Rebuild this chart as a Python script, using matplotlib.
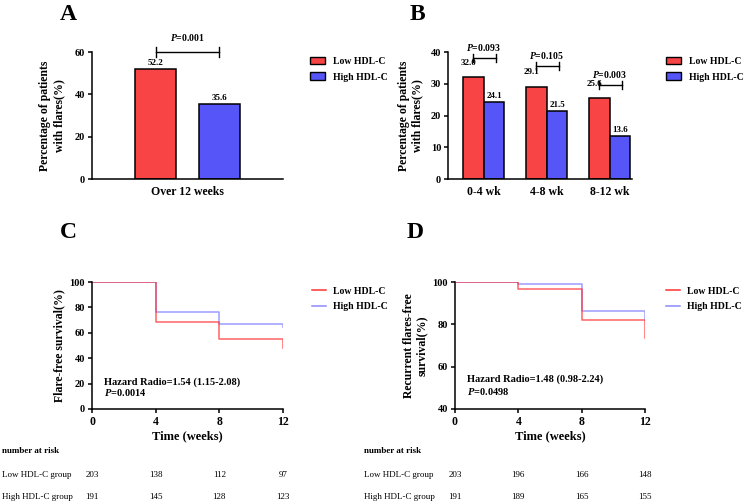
import matplotlib
matplotlib.use('Agg')
import matplotlib.pyplot as plt
from matplotlib.patches import Patch
from matplotlib.lines import Line2D
import matplotlib.transforms as mtransforms

plt.rcParams['font.family'] = 'Liberation Serif'
plt.rcParams['font.weight'] = 'bold'
plt.rcParams['axes.labelweight'] = 'bold'
plt.rcParams['mathtext.fontset'] = 'custom'
plt.rcParams['mathtext.it'] = 'Liberation Serif:bold:italic'
plt.rcParams['mathtext.rm'] = 'Liberation Serif:bold'

# panel A
overall_label = 'Over 12 weeks'
overall_low = 52.2
overall_high = 35.6
overall_p = '0.001'

# panel B
periods = ['0-4 wk', '4-8 wk', '8-12 wk']
period_low = [32.0, 29.1, 25.6]
period_high = [24.1, 21.5, 13.6]
period_p = ['0.093', '0.105', '0.003']

# panels C and D (Kaplan-Meier steps, last point is the drop at week 12)
km_times = [0, 4, 8, 12, 12]
flare_low = [100, 68.2, 55.1, 55.1, 47.8]
flare_high = [100, 76.1, 66.7, 66.7, 64.8]
recur_low = [100, 96.7, 82.0, 82.0, 73.5]
recur_high = [100, 98.9, 86.4, 86.4, 82.0]

risk_weeks = [0, 4, 8, 12]
flare_risk_low = [203, 138, 112, 97]
flare_risk_high = [191, 145, 128, 123]
recur_risk_low = [203, 196, 166, 148]
recur_risk_high = [191, 189, 165, 155]

RED = '#F84444'
BLUE = '#5555F8'
LINE_RED = '#FF3030'
LINE_BLUE = '#8C8CFF'

W, H = 753, 504
fig = plt.figure(figsize=(W / 100, H / 100), dpi=100)


def px_axes(left, top, right, bottom):
    return fig.add_axes([left / W, 1 - bottom / H, (right - left) / W, (bottom - top) / H])


def style_axes(ax):
    for s in ['top', 'right']:
        ax.spines[s].set_visible(False)
    for s in ['left', 'bottom']:
        ax.spines[s].set_linewidth(1.1)
    ax.tick_params(width=1.1, length=3, labelsize=7.5, pad=2)


def fig_y(py):
    return 1 - py / H


def bar_legend(ax, x_px):
    ax.legend(handles=[Patch(facecolor=RED, edgecolor='black', lw=1, label='Low HDL-C'),
                       Patch(facecolor=BLUE, edgecolor='black', lw=1, label='High HDL-C')],
              loc='center left', bbox_to_anchor=(x_px / W, fig_y(69)), bbox_transform=fig.transFigure,
              frameon=False, fontsize=7, handlelength=1.5, handleheight=0.8, handletextpad=0.9,
              labelspacing=0.7, borderpad=0, borderaxespad=0)


# ---------- A ----------
axA = px_axes(92, 52, 283, 179)
style_axes(axA)
bw = 0.65
axA.bar([0], [overall_low], width=bw, color=RED, edgecolor='black', linewidth=1.1)
axA.bar([1], [overall_high], width=bw, color=BLUE, edgecolor='black', linewidth=1.1)
axA.set_xlim(-1, 2)
axA.set_ylim(0, 60)
axA.set_yticks([0, 20, 40, 60])
axA.set_xticks([0.5])
axA.set_xticklabels([overall_label], fontsize=8.5)
axA.tick_params(axis='x', length=0, pad=5)
axA.set_ylabel('Percentage of patients\nwith flares(%)', fontsize=8.5, labelpad=7)
axA.text(0, overall_low + 0.8, f'{overall_low:.1f}', ha='center', va='bottom', fontsize=6.5)
axA.text(1, overall_high + 0.8, f'{overall_high:.1f}', ha='center', va='bottom', fontsize=6.5)
axA.plot([0, 1], [60, 60], color='black', lw=1, clip_on=False)
for xx in [0, 1]:
    axA.plot([xx, xx], [57.5, 62.5], color='black', lw=1, clip_on=False)
axA.text(0.5, 67, r'$P$=' + overall_p, ha='center', va='center', fontsize=7)
bar_legend(axA, 310)

# ---------- B ----------
axB = px_axes(448, 52, 632, 179)
style_axes(axB)
bw = 0.325
xs = list(range(len(periods)))
axB.bar([x - bw / 2 for x in xs], period_low, width=bw, color=RED, edgecolor='black', linewidth=1.1)
axB.bar([x + bw / 2 for x in xs], period_high, width=bw, color=BLUE, edgecolor='black', linewidth=1.1)
axB.set_xlim(-0.571, 2.35)
axB.set_ylim(0, 40)
axB.set_yticks([0, 10, 20, 30, 40])
axB.set_xticks(xs)
axB.set_xticklabels(periods, fontsize=8.5)
axB.tick_params(axis='x', length=0, pad=5)
axB.set_ylabel('Percentage of patients\nwith flares(%)', fontsize=8.5, labelpad=5)
bracket_y = [38.1, 35.6, 29.6]
for x, lo, hi, p, by in zip(xs, period_low, period_high, period_p, bracket_y):
    axB.text(x - bw / 2 - 0.08, lo + 3.2, f'{lo:.1f}', ha='center', va='bottom', fontsize=6.5)
    axB.text(x + bw / 2, hi + 0.7, f'{hi:.1f}', ha='center', va='bottom', fontsize=6.5)
    axB.plot([x - 0.175, x + 0.19], [by, by], color='black', lw=1, clip_on=False)
    for xx in [x - 0.175, x + 0.19]:
        axB.plot([xx, xx], [by - 1.4, by + 1.4], color='black', lw=1, clip_on=False)
    axB.text(x, by + 3.3, r'$P$=' + p, ha='center', va='center', fontsize=7)
bar_legend(axB, 666)


# ---------- C / D ----------
def km_panel(ax, low, high, ylim, yticks, ylabel, hr_text, p_text, hr_y, legend_x,
             risk_low, risk_high, label_x):
    style_axes(ax)
    ax.plot(km_times, high, drawstyle='steps-post', color=LINE_BLUE, lw=1.1, alpha=0.85)
    ax.plot(km_times, low, drawstyle='steps-post', color=LINE_RED, lw=1.1, alpha=0.75)
    ax.set_xlim(0, 12)
    ax.set_ylim(*ylim)
    ax.set_xticks(risk_weeks)
    ax.set_yticks(yticks)
    ax.tick_params(axis='x', labelsize=8.5)
    ax.set_xlabel('Time (weeks)', fontsize=9, labelpad=2)
    ax.set_ylabel(ylabel, fontsize=8.5, labelpad=3)
    ax.text(0.75, hr_y[0], hr_text, fontsize=7.5, va='center')
    ax.text(0.75, hr_y[1], r'$P$=' + p_text, fontsize=7.5, va='center')
    ax.legend(handles=[Line2D([], [], color=LINE_RED, lw=1.1, label='Low HDL-C'),
                       Line2D([], [], color=LINE_BLUE, lw=1.1, label='High HDL-C')],
              loc='center left', bbox_to_anchor=(legend_x / W, fig_y(299)), bbox_transform=fig.transFigure,
              frameon=False, fontsize=7, handlelength=1.4, handletextpad=0.8,
              labelspacing=0.7, borderpad=0, borderaxespad=0)
    tr = mtransforms.blended_transform_factory(ax.transData, fig.transFigure)
    fig.text(label_x / W, fig_y(451), 'number at risk', fontsize=6.5, va='center')
    fig.text(label_x / W, fig_y(475), 'Low HDL-C group', fontsize=6.5, va='center', weight='normal')
    fig.text(label_x / W, fig_y(497), 'High HDL-C group', fontsize=6.5, va='center', weight='normal')
    for wk, a, b in zip(risk_weeks, risk_low, risk_high):
        ax.text(wk, fig_y(475), str(a), transform=tr, ha='center', va='center', fontsize=6.5, weight='normal')
        ax.text(wk, fig_y(497), str(b), transform=tr, ha='center', va='center', fontsize=6.5, weight='normal')


axC = px_axes(92, 282, 283, 409)
km_panel(axC, flare_low, flare_high, (0, 100), [0, 20, 40, 60, 80, 100], 'Flare-free survival(%)',
         'Hazard Radio=1.54 (1.15-2.08)', '0.0014', (21.3, 12.6), 312,
         flare_risk_low, flare_risk_high, 2)

axD = px_axes(455, 282, 645, 409)
km_panel(axD, recur_low, recur_high, (40, 100), [40, 60, 80, 100], 'Recurrent flares-free\nsurvival(%)',
         'Hazard Radio=1.48 (0.98-2.24)', '0.0498', (54.2, 48.5), 666,
         recur_risk_low, recur_risk_high, 364)

# panel letters
for letter, px, py in [('A', 60, 14), ('B', 410, 14), ('C', 60, 233), ('D', 407, 233)]:
    fig.text(px / W, fig_y(py), letter, fontsize=17, va='center', ha='left')

fig.savefig('out.png', dpi=100)
